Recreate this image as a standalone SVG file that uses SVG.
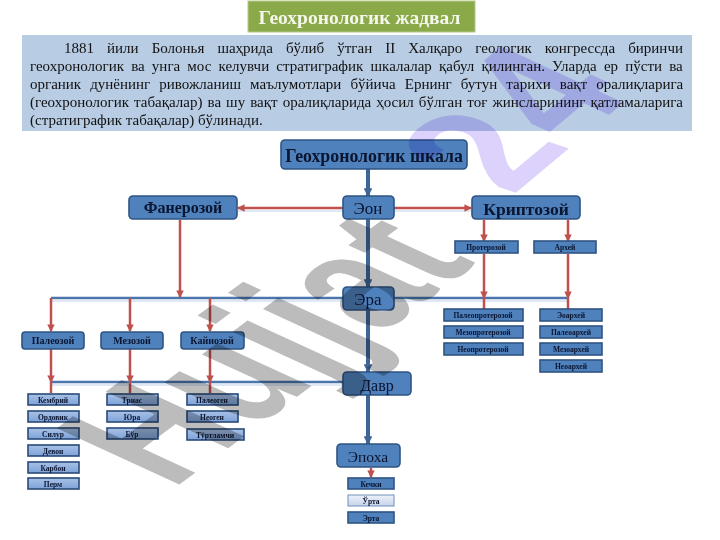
<svg xmlns="http://www.w3.org/2000/svg" width="720" height="540" viewBox="0 0 720 540">
<defs>
<marker id="r" viewBox="0 0 8 8" refX="7" refY="4" markerWidth="3" markerHeight="3" orient="auto"><path d="M0 0L8 4L0 8Z" fill="#bf504d"/></marker>
<marker id="b" viewBox="0 0 8 8" refX="7" refY="4" markerWidth="2.200" markerHeight="2.200" orient="auto"><path d="M0 0L8 4L0 8Z" fill="#3f6597"/></marker>
<linearGradient id="lt" x1="0" y1="0" x2="0" y2="1"><stop offset="0" stop-color="#a9c2e6"/><stop offset="1" stop-color="#7ea2d8"/></linearGradient>
<linearGradient id="wh" x1="0" y1="0" x2="0" y2="1"><stop offset="0" stop-color="#eef2fa"/><stop offset="1" stop-color="#c5d3ea"/></linearGradient>
</defs>
<style>
text{font-family:"Liberation Serif","Noto Sans",serif;fill:#0a1530}
.n{fill:#4f81bd;stroke:#2f5483;stroke-width:1.6}
.l{fill:url(#lt);stroke:#2a4a78;stroke-width:1.6}
.c{text-anchor:middle}
.s{font-size:7.5px;font-weight:bold}
.m{font-size:10px;font-weight:bold}
.body{font-size:15px;fill:#111}
.red{fill:none;stroke:#bf504d;stroke-width:2.500;marker-end:url(#r)}
.red0{fill:none;stroke:#bf504d;stroke-width:2.500}
.blue{fill:none;stroke:#4a76ad;stroke-width:2.500}
.v{fill:none;stroke:#3f6597;stroke-width:4;marker-end:url(#b)}
.glow{fill:none;stroke:#dfe8f4;stroke-width:2}
.wm{font-family:"Liberation Sans",sans-serif;font-weight:bold;font-size:100px;mix-blend-mode:multiply}
</style>
<g id="title"><rect x="248" y="1" width="227" height="31" fill="#8aaa4a" stroke="#b5c98a" stroke-width="1"/><text x="359.500" y="24" class="c" style="font-size:19.500px;font-weight:bold;fill:#f4f7ea">Геохронологик жадвал</text></g>
<g id="intro"><rect x="22" y="35" width="670" height="96" fill="#b8cce4"/>
<text class="body" x="64" y="53" word-spacing="9.3">1881 йили Болонья шаҳрида бўлиб ўтган II Халқаро геологик конгрессда биринчи</text>
<text class="body" x="30" y="71" word-spacing="3.4">геохронологик ва унга мос келувчи стратиграфик шкалалар қабул қилинган. Уларда ер пўсти ва</text>
<text class="body" x="30" y="89" word-spacing="5.3">органик дунёнинг ривожланиш маълумотлари бўйича Ернинг бутун тарихи вақт оралиқларига</text>
<text class="body" x="30" y="107" word-spacing="1.3">(геохронологик табақалар) ва шу вақт оралиқларида ҳосил бўлган тоғ жинсларининг қатламаларига</text>
<text class="body" x="30" y="125">(стратиграфик табақалар) бўлинади.</text></g>
<g id="connectors">
<path class="glow" d="M51 301H343M394 301H568M51 385H343M238 211H343M394 211H471"/>
<path class="v" d="M368 169V196"/><path class="v" d="M368 219V287"/><path class="v" d="M368 310V372"/><path class="v" d="M368 395V444"/>
<path class="blue" d="M343 298H51M394 298H568M343 382H51"/>
<path class="red" d="M343 208H238"/><path class="red" d="M394 208H471"/>
<path class="red" d="M180 220V297"/>
<path class="red" d="M484 220V241"/><path class="red" d="M568 220V241"/>
<path class="red" d="M484 254V298"/><path class="red" d="M568 254V298"/>
<path class="red0" d="M484 298V309M568 298V309"/>
<path class="red" d="M51 298V331"/><path class="red" d="M130 298V331"/><path class="red" d="M210 298V331"/>
<path class="red" d="M51 349V382"/><path class="red" d="M130 349V382"/><path class="red" d="M210 349V382"/>
<path class="red0" d="M51 382V393M130 382V393M210 382V393"/>
<path class="red" d="M371 468V477"/>
</g>
<g id="n-scale"><rect class="n" x="281" y="140" width="186" height="29" rx="4"/><text x="374" y="162" class="c" style="font-size:17.800px;font-weight:bold">Геохронологик шкала</text></g>
<g id="n-fan"><rect class="n" x="129" y="196" width="108" height="23" rx="4"/><text x="183" y="213" class="c" style="font-size:16px;font-weight:bold">Фанерозой</text></g>
<g id="n-eon"><rect class="n" x="343" y="196" width="51" height="23" rx="4"/><text x="368" y="214" class="c" style="font-size:17px">Эон</text></g>
<g id="n-kri"><rect class="n" x="472" y="196" width="108" height="23" rx="4"/><text x="526" y="215" class="c" style="font-size:17.500px;font-weight:bold">Криптозой</text></g>
<g id="n-pro"><rect class="n" x="455" y="241" width="63" height="12"/><text x="486" y="250" class="c s">Протерозой</text></g>
<g id="n-arx"><rect class="n" x="534" y="241" width="62" height="12"/><text x="565" y="250" class="c s">Архей</text></g>
<g id="n-era"><rect class="n" x="343" y="287" width="51" height="23" rx="4"/><text x="368" y="305" class="c" style="font-size:17px">Эра</text></g>
<g id="n-pp"><rect class="n" x="444" y="309" width="79" height="12"/><text x="483" y="318" class="c s">Палеопротерозой</text></g>
<g id="n-mp"><rect class="n" x="444" y="326" width="79" height="12"/><text x="483" y="335" class="c s">Мезопротерозой</text></g>
<g id="n-np"><rect class="n" x="444" y="343" width="79" height="12"/><text x="483" y="352" class="c s">Неопротерозой</text></g>
<g id="n-ea"><rect class="n" x="540" y="309" width="62" height="12"/><text x="571" y="318" class="c s">Эоархей</text></g>
<g id="n-pa"><rect class="n" x="540" y="326" width="62" height="12"/><text x="571" y="335" class="c s">Палеоархей</text></g>
<g id="n-ma"><rect class="n" x="540" y="343" width="62" height="12"/><text x="571" y="352" class="c s">Мезоархей</text></g>
<g id="n-na"><rect class="n" x="540" y="360" width="62" height="12"/><text x="571" y="369" class="c s">Неоархей</text></g>
<g id="n-paleo"><rect class="n" x="22" y="332" width="62" height="17" rx="3"/><text x="53" y="344" class="c m">Палеозой</text></g>
<g id="n-mezo"><rect class="n" x="101" y="332" width="62" height="17" rx="3"/><text x="132" y="344" class="c m">Мезозой</text></g>
<g id="n-kay"><rect class="n" x="181" y="332" width="63" height="17" rx="3"/><text x="212" y="344" class="c m">Кайнозой</text></g>
<g id="n-davr"><rect class="n" x="343" y="372" width="68" height="23" rx="4"/><text x="377" y="391" class="c" style="font-size:16px">Давр</text></g>
<g id="n-k1"><rect class="l" x="28" y="394" width="51" height="11"/><text x="53" y="402.500" class="c s">Кембрий</text></g>
<g id="n-k2"><rect class="l" x="28" y="411" width="51" height="11"/><text x="53" y="419.500" class="c s">Ордовик</text></g>
<g id="n-k3"><rect class="l" x="28" y="428" width="51" height="11"/><text x="53" y="436.500" class="c s">Силур</text></g>
<g id="n-k4"><rect class="l" x="28" y="445" width="51" height="11"/><text x="53" y="453.500" class="c s">Девон</text></g>
<g id="n-k5"><rect class="l" x="28" y="462" width="51" height="11"/><text x="53" y="470.500" class="c s">Карбон</text></g>
<g id="n-k6"><rect class="l" x="28" y="478" width="51" height="11"/><text x="53" y="486.500" class="c s">Перм</text></g>
<g id="n-t1"><rect class="l" x="107" y="394" width="51" height="11"/><text x="132" y="402.500" class="c s">Триас</text></g>
<g id="n-t2"><rect class="l" x="107" y="411" width="51" height="11"/><text x="132" y="419.500" class="c s">Юра</text></g>
<g id="n-t3"><rect class="l" x="107" y="428" width="51" height="11"/><text x="132" y="436.500" class="c s">Бўр</text></g>
<g id="n-q1"><rect class="l" x="187" y="394" width="51" height="11"/><text x="212" y="402.500" class="c s">Палеоген</text></g>
<g id="n-q2"><rect class="l" x="187" y="411" width="51" height="11"/><text x="212" y="419.500" class="c s">Неоген</text></g>
<g id="n-q3"><rect class="l" x="187" y="429" width="57" height="11"/><text x="215" y="437.500" class="c s">Тўртламчи</text></g>
<g id="n-epoha"><rect class="n" x="337" y="444" width="63" height="23" rx="4"/><text x="368" y="462" class="c" style="font-size:15.500px">Эпоха</text></g>
<g id="n-e1"><rect class="n" x="348" y="478" width="46" height="11"/><text x="371" y="487" class="c s">Кечки</text></g>
<g id="n-e2"><rect x="348" y="495" width="46" height="11" fill="url(#wh)" stroke="#6f8fba" stroke-width="1"/><text x="371" y="504" class="c s">Ўрта</text></g>
<g id="n-e3"><rect class="n" x="348" y="512" width="46" height="11"/><text x="371" y="521" class="c s">Эрта</text></g>
<g id="watermark">
<text class="wm" style="fill:#bcbcbc" transform="matrix(1.1 -0.82 1.78 0.82 172 490)">Hujjat</text>
<text class="wm" style="fill:#dcd2fb" transform="matrix(1.1 -0.92 1.78 0.6 512 196)">2</text>
<text class="wm" style="fill:#dcd2fb" transform="matrix(1.1 -0.92 1.78 0.82 573 145)">4</text>
</g>
</svg>
